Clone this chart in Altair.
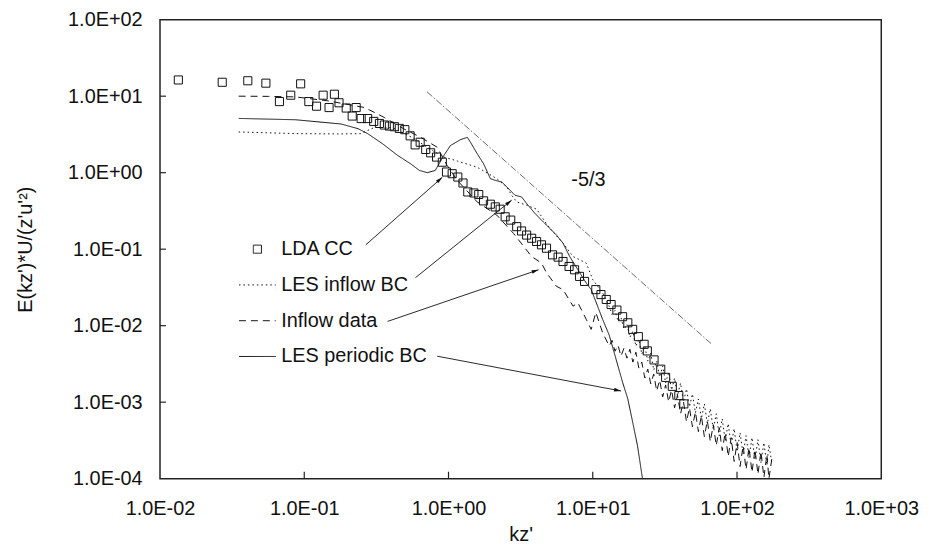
import math
import altair as alt
import pandas as pd

# ---------------- data ----------------
SERIES = ["LDA CC", "LES inflow BC", "Inflow data", "LES periodic BC"]

lda_kz = [0.0134, 0.0270, 0.0406, 0.0542, 0.0944, 0.0806, 0.0673, 0.1076, 0.1217, 0.1352,
          0.1486, 0.1618, 0.1742, 0.1954, 0.229, 0.215, 0.248, 0.275, 0.303, 0.332,
          0.359, 0.389, 0.421, 0.456, 0.498, 0.542, 0.587, 0.636, 0.695, 0.752,
          0.826, 0.906, 0.968, 1.06, 1.16, 1.26, 1.36, 1.50, 1.62, 1.75, 1.95,
          2.11, 2.28, 2.47, 2.70, 2.97, 3.21, 3.48, 3.77, 4.08, 4.41, 4.78, 5.26,
          5.75, 6.22, 6.85, 7.48, 8.09, 8.77,
          10.5, 11.4, 12.4, 13.4, 14.7, 16.1, 17.5, 18.9, 20.7, 22.7, 23.9, 26.6,
          29.6, 32.0, 35.6, 39.5, 42.8]
lda_E = [16.3, 15.2, 15.9, 14.8, 14.5, 10.3, 8.5, 8.5, 7.4, 10.3,
         7.1, 10.6, 8.2, 7.0, 7.1, 5.5, 5.1, 5.1, 4.68, 4.40,
         4.20, 4.07, 3.99, 3.79, 3.65, 3.03, 2.31, 2.50, 2.01, 1.82,
         1.60, 1.37, 1.02, 0.97, 0.877, 0.733, 0.560, 0.543, 0.518, 0.428, 0.387,
         0.357, 0.333, 0.265, 0.240, 0.197, 0.173, 0.153, 0.139, 0.126, 0.114, 0.103, 0.0843,
         0.0787, 0.0690, 0.0594, 0.0538, 0.0441, 0.0379,
         0.0296, 0.0255, 0.0220, 0.0189, 0.0160, 0.0131, 0.0109, 0.00895, 0.00719, 0.00571,
         0.00468, 0.00357, 0.00270, 0.00211, 0.00161, 0.00122, 0.00095]

# wavenumbers of the fine, noisy high-kz part shared by the two noisy curves
noise_kz = [13.60, 14.27, 14.96, 15.69, 16.45, 17.25, 18.09, 18.97, 19.90, 20.86,
            21.88, 22.95, 24.06, 25.23, 26.46, 27.75, 29.10, 30.52, 32.00, 33.56,
            35.19, 36.91, 38.70, 40.59, 42.57, 44.64, 46.81, 49.09, 51.48, 53.99,
            56.61, 59.37, 62.26, 65.30, 68.47, 71.81, 75.30, 78.98, 82.81, 86.86,
            91.07, 95.52, 100.2, 105.0, 110.2, 115.5, 121.1, 127.0, 133.2, 139.7,
            146.5, 153.6, 161.1, 166.4, 174.5]

inflow_kz = [0.0351, 0.0565, 0.0867, 0.146, 0.262, 0.359, 0.493, 0.641, 0.835, 0.979,
             1.15, 1.58, 2.16, 2.82, 3.77, 4.41, 4.78, 5.60, 6.22, 7.30,
             7.89, 9.01, 9.75, 10.5, 11.7, 13.0] + noise_kz
inflow_E = [10.0, 9.94, 9.79, 8.69, 7.11, 5.27, 3.72, 2.90, 2.15, 1.24,
            0.794, 0.415, 0.279, 0.161, 0.0802, 0.0658, 0.0492, 0.0327, 0.0296, 0.0180,
            0.0199, 0.0121, 0.00895, 0.0149, 0.00811, 0.00543,
            0.00644, 0.00464, 0.00555, 0.00399, 0.00507, 0.00376, 0.00492, 0.00334, 0.00450, 0.00279,
            0.00334, 0.00207, 0.00271, 0.00173, 0.00233, 0.00140, 0.00195, 0.00117, 0.00168, 0.00101,
            0.00144, 0.000844, 0.00124, 0.000705, 0.00101, 0.000555, 0.000844, 0.000478, 0.000748, 0.000412,
            0.000664, 0.000354, 0.000572, 0.000305, 0.000507, 0.000271, 0.000464, 0.000233, 0.000399, 0.000195,
            0.000344, 0.000168, 0.000296, 0.000144, 0.000271, 0.000132, 0.000255, 0.000121, 0.000240, 0.000114,
            0.000226, 0.000104, 0.000207, 0.000100, 0.000184]

lesin_kz = [0.0351, 0.0867, 0.171, 0.246, 0.307, 0.410, 0.562, 0.773, 0.929, 1.15,
            1.58, 2.16, 2.54, 2.74, 2.97, 3.48, 4.08, 5.01, 6.22, 7.30,
            9.01, 10.0, 11.7, 13.0] + noise_kz
lesin_E = [3.41, 3.24, 3.21, 3.24, 3.91, 3.87, 2.87, 1.95, 1.60, 1.42,
           1.18, 0.836, 0.650, 0.507, 0.415, 0.376, 0.333, 0.189, 0.120, 0.0802,
           0.0658, 0.0399, 0.0269, 0.0180,
           0.01402, 0.01580, 0.01137, 0.01282, 0.00895, 0.01040, 0.00705, 0.00844, 0.00539, 0.00664,
           0.00424, 0.00539, 0.00344, 0.00437, 0.00263, 0.00344, 0.00213, 0.00296, 0.00178, 0.00248,
           0.00144, 0.00207, 0.00121, 0.00178, 0.00101, 0.00149, 0.000869, 0.00128, 0.000726, 0.00110,
           0.000607, 0.000950, 0.000523, 0.000819, 0.000437, 0.000705, 0.000365, 0.000607, 0.000314, 0.000523,
           0.000271, 0.000450, 0.000226, 0.000399, 0.000207, 0.000365, 0.000189, 0.000344, 0.000178, 0.000324,
           0.000163, 0.000296, 0.000149, 0.000279, 0.000158]

per_kz = [0.0351, 0.0867, 0.180, 0.236, 0.275, 0.350, 0.444, 0.545, 0.628, 0.713,
          0.809, 0.929, 1.03, 1.21, 1.35, 1.42, 1.58, 1.75, 1.95, 2.11,
          2.34, 2.54, 2.89, 3.21, 3.48, 3.97, 4.41, 5.04, 5.60, 6.22,
          6.92, 7.89, 9.01, 9.75, 10.8, 11.7, 13.0, 14.5, 16.1, 17.5,
          18.9, 20.4, 22.1]
per_E = [5.12, 4.92, 4.33, 3.76, 3.24, 2.38, 1.68, 1.31, 1.07, 1.00,
         1.07, 1.68, 2.26, 2.70, 2.90, 2.50, 1.77, 1.31, 0.836, 0.794,
         0.755, 0.650, 0.507, 0.482, 0.396, 0.294, 0.240, 0.187, 0.153, 0.120,
         0.0802, 0.0538, 0.0361, 0.0296, 0.0180, 0.0121, 0.00754, 0.00365, 0.00182, 0.00110,
         0.000550, 0.000273, 0.000101]

slope_kz = [0.71, 67.7]
slope_E = [11.4, 0.0056]
slope_label = "-5/3"
slope_label_kz = [7.10]
slope_label_E = [0.794]

arrow_kz1 = [0.267, 0.590, 0.378, 0.835]
arrow_E1 = [0.114, 0.0424, 0.01137, 0.00399]
arrow_kz2 = [0.906, 2.74, 4.21, 15.7]
arrow_E2 = [0.869, 0.437, 0.0538, 0.00140]

x_ticks = [0.01, 0.1, 1, 10, 100, 1000]
y_ticks = [1e-4, 1e-3, 1e-2, 1e-1, 1, 10, 100]

# ---------------- layout ----------------
W, H = 726, 462
FONT = "Liberation Sans"
INK = "#111111"

lda_df = pd.DataFrame({"kz": lda_kz, "E": lda_E, "series": "LDA CC"})
parts = []
for name, kz, E in [("LES inflow BC", lesin_kz, lesin_E),
                    ("Inflow data", inflow_kz, inflow_E),
                    ("LES periodic BC", per_kz, per_E)]:
    parts.append(pd.DataFrame({"kz": kz, "E": E, "series": name, "order": range(len(kz))}))
lines_df = pd.concat(parts, ignore_index=True)
slope_df = pd.DataFrame({"kz": slope_kz, "E": slope_E})
label_df = pd.DataFrame({"kz": slope_label_kz, "E": slope_label_E, "t": [slope_label]})

arrows_df = pd.DataFrame({"kz": arrow_kz1, "E": arrow_E1, "kz2": arrow_kz2, "E2": arrow_E2})
def head_angle(r):
    dx = (math.log10(r.kz2) - math.log10(r.kz)) * W / 5
    dy = -(math.log10(r.E2) - math.log10(r.E)) * H / 6
    return math.degrees(math.atan2(dx, -dy)) % 360
arrows_df["ang"] = arrows_df.apply(head_angle, axis=1)

xt_df = pd.DataFrame({"v": x_ticks[1:-1]})
yt_df = pd.DataFrame({"v": y_ticks[1:-1]})

label_expr = ("'1.0E' + (round(log(datum.value)/LN10) < 0 ? '-' : '+') + "
              "(abs(round(log(datum.value)/LN10)) < 10 ? '0' : '') + abs(round(log(datum.value)/LN10))")

xscale = alt.Scale(type="log", domain=[0.01, 1000])
yscale = alt.Scale(type="log", domain=[1e-4, 100])

xaxis = alt.Axis(values=x_ticks, labelExpr=label_expr, ticks=False, domain=False, grid=False,
                 labelFont=FONT, labelFontSize=20, labelColor=INK, labelPadding=20,
                 labelFlush=False, labelOverlap=False,
                 title="kz'", titleFont=FONT, titleFontSize=20, titleFontWeight="normal",
                 titleColor=INK, titlePadding=6)
yaxis = alt.Axis(values=y_ticks, labelExpr=label_expr, ticks=False, domain=False, grid=False,
                 labelFont=FONT, labelFontSize=20, labelColor=INK, labelPadding=18,
                 labelFlush=False, labelOverlap=False,
                 title="E(kz')*U/(z'u'\u00b2)", titleFont=FONT, titleFontSize=20,
                 titleFontWeight="normal", titleColor=INK, titlePadding=32)

X = alt.X("kz:Q", scale=xscale, axis=xaxis)
Y = alt.Y("E:Q", scale=yscale, axis=yaxis)

legend = alt.Legend(title=None, orient="none", legendX=79, legendY=212, padding=0,
                    symbolSize=1369, symbolStrokeWidth=1, symbolStrokeColor=INK,
                    labelFont=FONT, labelFontSize=20, labelColor=INK, labelOffset=5,
                    rowPadding=7)

square_path = "M-0.22,-0.22H0.22V0.22H-0.22Z"

lines = alt.Chart(lines_df).mark_line(color=INK, strokeWidth=1, clip=True).encode(
    x=X, y=Y, order="order:Q",
    strokeDash=alt.StrokeDash("series:N",
                              scale=alt.Scale(domain=SERIES, range=[[1, 0], [1.5, 3], [7, 5], [1, 0]]),
                              legend=legend),
)

points = alt.Chart(lda_df).mark_point(filled=False, color=INK, strokeWidth=1, opacity=1, clip=True).encode(
    x=X, y=Y,
    shape=alt.Shape("series:N",
                    scale=alt.Scale(domain=SERIES, range=[square_path, "stroke", "stroke", "stroke"]),
                    legend=legend),
    size=alt.value(1369),
)

slope = alt.Chart(slope_df).mark_line(color="#444444", strokeWidth=0.8, strokeDash=[7, 2, 1.5, 2]).encode(
    x=X, y=Y)

slope_text = alt.Chart(label_df).mark_text(align="left", baseline="middle", font=FONT, fontSize=20,
                                           color=INK).encode(x=X, y=Y, text="t:N")

arrows = alt.Chart(arrows_df).mark_rule(color=INK, strokeWidth=0.9).encode(
    x=X, y=Y, x2="kz2:Q", y2="E2:Q")

heads = alt.Chart(arrows_df).mark_point(shape="M0,0L-0.35,1.3L0.35,1.3Z", filled=True, color=INK,
                                        opacity=1, size=116).encode(
    x=alt.X("kz2:Q", scale=xscale, axis=xaxis), y=alt.Y("E2:Q", scale=yscale, axis=yaxis),
    angle=alt.Angle("ang:Q", scale=None))

xticks = alt.Chart(xt_df).mark_rule(color="#222222", strokeWidth=1.2).encode(
    x=alt.X("v:Q", scale=xscale, axis=xaxis), y=alt.value(H), y2=alt.value(H - 7))
yticks = alt.Chart(yt_df).mark_rule(color="#222222", strokeWidth=1.2).encode(
    y=alt.Y("v:Q", scale=yscale, axis=yaxis), x=alt.value(0), x2=alt.value(6))

chart = alt.layer(slope, lines, arrows, heads, points, slope_text, xticks, yticks).properties(
    width=W, height=H,
    padding={"left": 153, "top": 10, "right": 42, "bottom": 65},
    autosize=alt.AutoSizeParams(type="none"),
    background="white",
).configure_view(stroke="#222222", strokeWidth=1.5)

chart.save("out.html", embed_options={"renderer": "svg", "actions": False})
